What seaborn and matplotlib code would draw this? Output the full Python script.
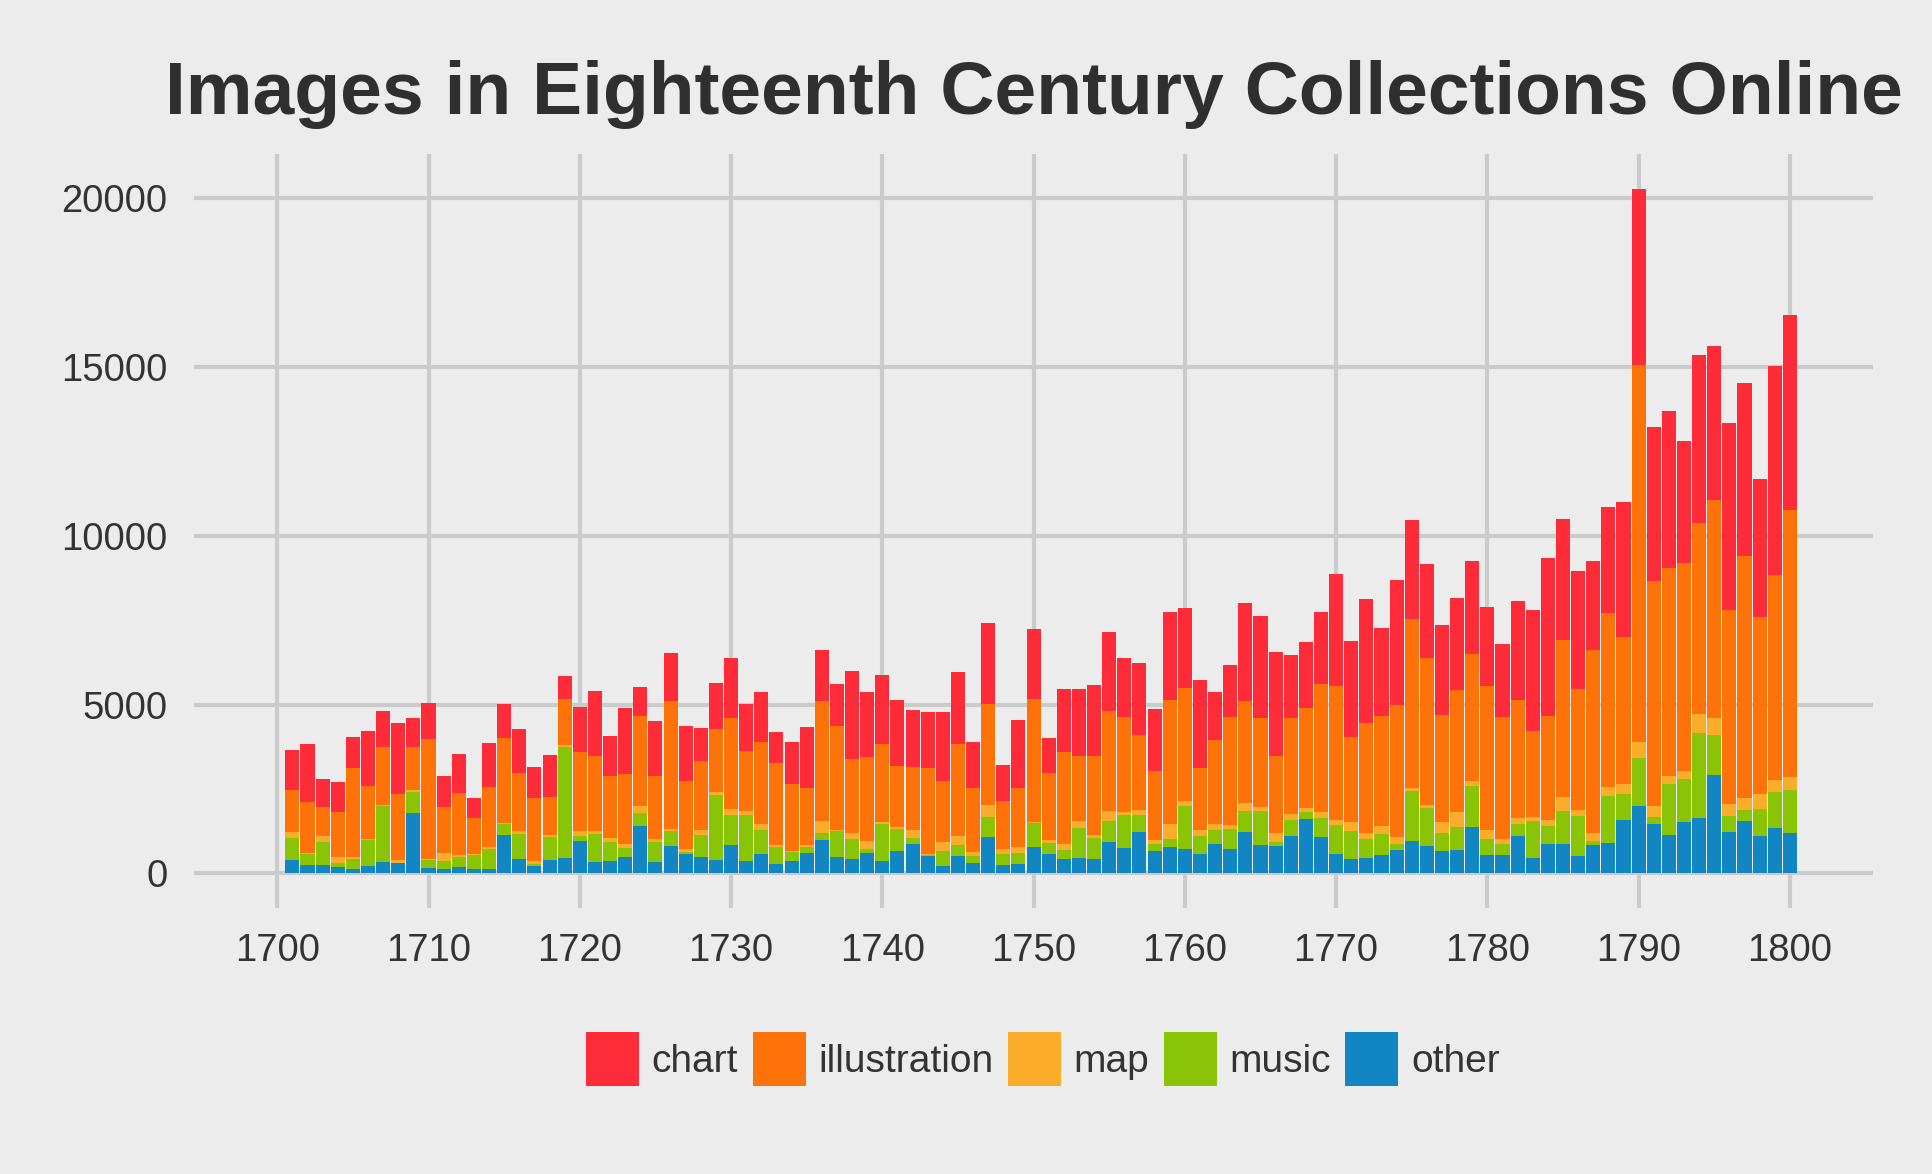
import numpy as np
import pandas as pd
import matplotlib
matplotlib.use("Agg")
import matplotlib.pyplot as plt
import seaborn as sns
from matplotlib.patches import Patch

# data (counts per year, 1700-1800)
years = list(range(1700, 1801))

other = [0, 395, 247, 247, 188, 128, 217, 336, 306, 1788,
         158, 128, 188, 128, 128, 1136, 425, 217, 395, 454,
         958, 336, 366, 484, 1403, 336, 810, 573, 484, 395,
         840, 366, 573, 277, 366, 603, 988, 484, 425, 603,
         366, 662, 869, 514, 217, 514, 306, 1077, 247, 277,
         781, 573, 425, 454, 425, 929, 751, 1225, 662, 781,
         721, 573, 869, 721, 1225, 840, 810, 1107, 1610, 1077,
         573, 425, 454, 543, 692, 958, 810, 662, 692, 1373,
         543, 543, 1107, 454, 869, 869, 514, 840, 899, 1581,
         1996, 1462, 1136, 1521, 1640, 2914, 1225, 1551, 1106, 1343,
         1195]

music = [0, 652, 326, 682, 118, 297, 771, 1660, 10, 623,
         237, 238, 296, 415, 593, 326, 741, 60, 682, 3291,
         149, 830, 563, 267, 385, 593, 445, 59, 652, 1927,
         889, 1363, 711, 504, 266, 178, 208, 771, 593, 118,
         1096, 652, 178, 29, 445, 326, 208, 593, 326, 326,
         711, 326, 267, 890, 622, 622, 978, 504, 207, 237,
         1275, 534, 415, 593, 623, 1008, 119, 474, 208, 563,
         860, 830, 564, 623, 177, 1482, 1126, 533, 681, 1216,
         475, 326, 355, 1097, 534, 978, 1185, 118, 1393, 770,
         1422, 208, 1512, 1275, 2520, 1186, 474, 326, 801, 1068,
         1275]

maps = [0, 178, 20, 178, 178, 59, 30, 29, 89, 59,
        15, 237, 59, 30, 59, 30, 89, 89, 59, 59,
        148, 89, 118, 118, 208, 89, 59, 89, 148, 89,
        178, 119, 178, 59, 30, 59, 355, 29, 178, 237,
        60, 59, 237, 30, 267, 267, 118, 355, 148, 178,
        30, 89, 177, 207, 89, 297, 89, 148, 119, 444,
        148, 177, 178, 119, 237, 118, 266, 178, 118, 178,
        148, 267, 177, 237, 208, 89, 89, 327, 445, 148,
        266, 149, 178, 119, 178, 415, 178, 238, 267, 297,
        475, 326, 237, 237, 563, 504, 356, 356, 444, 355,
        385]

illustration = [10, 1245, 1510, 859, 1334, 2638, 1571, 1720, 1956, 1275,
                3557, 1363, 1838, 1067, 1779, 2519, 1719, 1867, 1126, 1363,
                2341, 2223, 1838, 2075, 2667, 1867, 3794, 2016, 2046, 1867,
                2697, 1778, 2431, 2430, 1986, 1689, 3557, 3083, 2193, 2490,
                2311, 1808, 1868, 2549, 1808, 2726, 1897, 2994, 1423, 1748,
                3645, 1986, 2727, 1927, 2342, 2964, 2816, 2223, 2045, 3676,
                3349, 1838, 2490, 3201, 3023, 2638, 2283, 2845, 2964, 3794,
                3972, 2519, 3261, 3260, 3912, 5009, 4357, 3171, 3616, 3764,
                4269, 3616, 3498, 2549, 3082, 4654, 3587, 5424, 5157, 4357,
                11159, 6660, 6156, 6156, 5650, 6450, 5750, 7163, 5247, 6068,
                7903]

chart = [10, 1186, 1719, 830, 889, 919, 1630, 1067, 2105, 859,
         1067, 919, 1156, 593, 1304, 1008, 1304, 919, 1245, 682,
         1334, 1926, 1186, 1956, 860, 1630, 1423, 1630, 978, 1363,
         1778, 1393, 1482, 919, 1245, 1808, 1512, 1245, 2608, 1927,
         2046, 1957, 1689, 1660, 2045, 2135, 1364, 2401, 1067, 2016,
         2075, 1037, 1868, 1986, 2104, 2341, 1748, 2134, 1838, 2608,
         2371, 2608, 1423, 1541, 2905, 3023, 3082, 1867, 1957, 2134,
         3319, 2845, 3675, 2609, 3705, 2935, 2787, 2668, 2727, 2757,
         2341, 2163, 2934, 3586, 4674, 3576, 3488, 2628, 3131, 3990,
         5241, 4560, 4649, 3613, 4975, 4560, 5529, 5123, 4078, 6188,
         5774]

categories = ["chart", "illustration", "map", "music", "other"]
palette = {"chart": "#FE2B39", "illustration": "#FD7309", "map": "#FBAC2A",
           "music": "#89C406", "other": "#1286C2"}

series = {"chart": chart, "illustration": illustration, "map": maps,
          "music": music, "other": other}
df = pd.concat([pd.DataFrame({"year": years, "type": k, "n": v}) for k, v in series.items()],
               ignore_index=True)

BG = "#ECECEC"
sns.set_theme(style="whitegrid")
plt.rcParams["font.family"] = ["Liberation Sans", "DejaVu Sans"]

fig = plt.figure(figsize=(19.33, 11.74), dpi=100, facecolor=BG)
ax = fig.add_axes([0.1004, 0.2270, 0.8686, 0.6418])
ax.set_facecolor(BG)

sns.histplot(data=df, x="year", weights="n", hue="type", hue_order=categories,
             multiple="stack", discrete=True, shrink=0.93, palette=palette,
             alpha=1, edgecolor="none", linewidth=0, legend=False, ax=ax)

ax.set_xlim(1694.5, 1805.5)
ax.set_ylim(-1015, 21315)
ax.set_xticks(range(1700, 1801, 10))
ax.set_yticks([0, 5000, 10000, 15000, 20000])
ax.set_yticklabels(["0", "5000", "10000", "15000", "20000"])
ax.set_xlabel("")
ax.set_ylabel("")

ax.grid(True, color="#CBCBCB", linewidth=3.0)
ax.set_axisbelow(True)
for s in ax.spines.values():
    s.set_visible(False)
ax.tick_params(axis="both", length=0, labelsize=27.5, labelcolor="#333333")
ax.tick_params(axis="y", pad=19)
ax.tick_params(axis="x", pad=18)

fig.text(0.5349, 1 - 114 / 1174, "Images in Eighteenth Century Collections Online",
         ha="center", va="baseline", fontsize=54, fontweight="bold", color="#2F2F2F")

handles = [Patch(facecolor=palette[c], edgecolor="none", label=c) for c in categories]
fig.legend(handles=handles, loc="center", bbox_to_anchor=(0.5396, 0.098), ncol=5,
           frameon=False, fontsize=28, labelcolor="#333333", handlelength=1.36,
           handleheight=1.76, handletextpad=0.33, columnspacing=0.37, borderaxespad=0)

fig.savefig("out.png", dpi=100, facecolor=BG)
